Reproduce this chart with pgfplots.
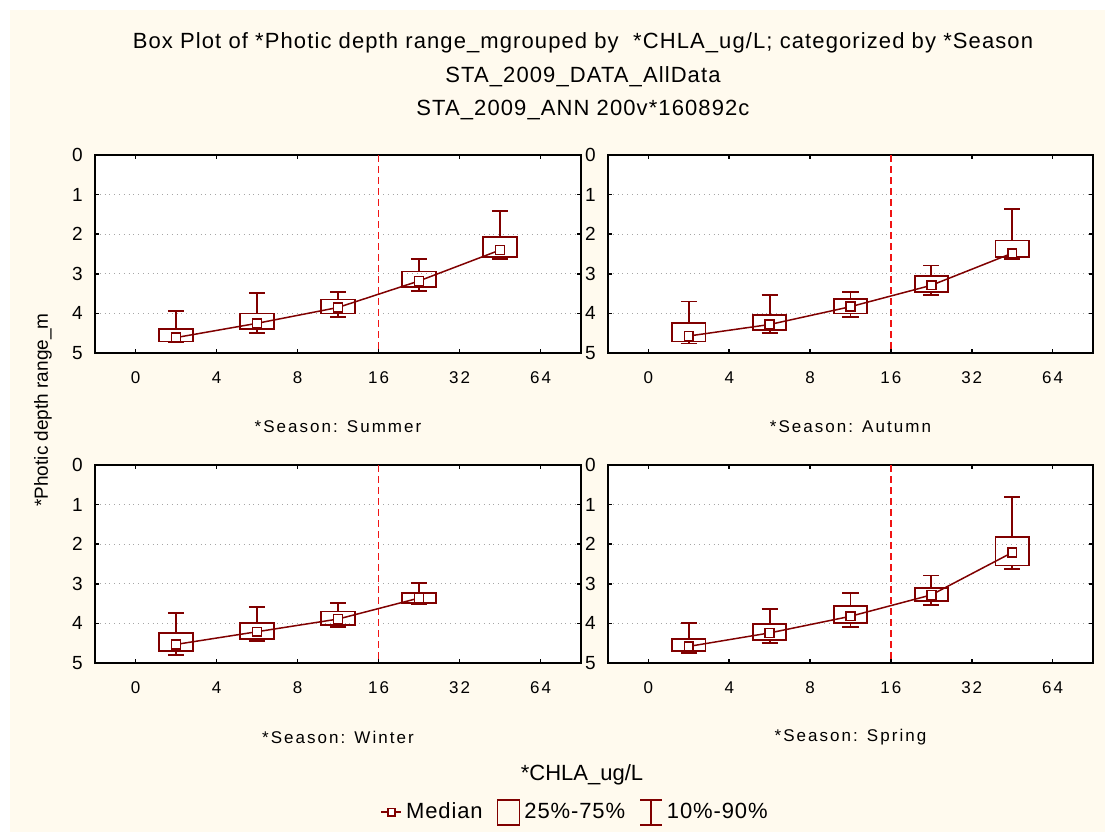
\documentclass[border=0pt]{standalone}
\usepackage{fontspec}
\setmainfont{Liberation Sans}
\usepackage{pgfplots}
\pgfplotsset{compat=1.18}
\usepgfplotslibrary{statistics}
\definecolor{boxred}{RGB}{128,0,0}
\definecolor{cream}{RGB}{255,250,238}
\definecolor{dashred}{RGB}{240,20,20}
\newfontfamily\spaced[LetterSpace=12]{Liberation Sans}
\newfontfamily\legfont[LetterSpace=4]{Liberation Sans}
\newfontfamily\titlefont[LetterSpace=5]{Liberation Sans}

% draw position, lower whisker, lower quartile, median, upper quartile, upper whisker
\newcommand{\bx}[6]{\addplot[boxred, line width=0.9pt, forget plot,
  boxplot prepared={draw direction=y, draw position=#1, lower whisker=#2, lower quartile=#3,
  median=#4, upper quartile=#5, upper whisker=#6, box extend=0.41, whisker extend=0.2}]
  coordinates {};}

\pgfplotsset{
  boxplot/every median/.style={draw=none},
  panel/.style={
    scale only axis, width=243pt, height=99pt, anchor=south west,
    xmin=-0.5, xmax=5.5, ymin=0, ymax=5, y dir=reverse,
    xtick={0,...,5}, xticklabels={0,4,8,16,32,64}, ytick={0,...,5},
    tick align=inside, major tick length=1.8pt,
    axis line style={line width=0.85pt},
    every tick/.style={black, line width=0.8pt},
    ymajorgrids, grid style={black!35, dotted, line width=0.6pt},
    axis background/.style={fill=white},
    /pgf/number format/assume math mode=true,
    xticklabel style={anchor=center, yshift=-12.5pt, font=\spaced\fontsize{8.5}{10}\selectfont},
    yticklabel style={anchor=center, xshift=-8.75pt, font=\fontsize{9.5}{11}\selectfont},
    xlabel style={at={(axis description cs:0.5,0)}, anchor=center, yshift=-37pt, font=\spaced\fontsize{8.5}{10}\selectfont},
  },
  medline/.style={boxred, line width=0.75pt, mark=square*, mark size=2.2pt,
    mark options={fill=white, solid, line width=0.8pt}, forget plot},
  cut/.style={dashred, dash pattern=on 3.5pt off 2pt, line width=0.9pt, forget plot},
}

\begin{document}
\begin{tikzpicture}
\useasboundingbox (0,0) rectangle (552.5pt,-416pt);
\fill[white] (0,0) rectangle (552.5pt,-416pt);
\fill[cream] (5pt,-5pt) rectangle (552.5pt,-416pt);

\node[font=\titlefont\fontsize{11}{13}\selectfont] at (291.5pt,-21.5pt) {Box Plot of *Photic depth range\_mgrouped by \ *CHLA\_ug/L; categorized by *Season};
\node[font=\titlefont\fontsize{11}{13}\selectfont] at (291.5pt,-38.5pt) {STA\_2009\_DATA\_AllData};
\node[font=\titlefont\fontsize{11}{13}\selectfont] at (291.5pt,-55pt) {STA\_2009\_ANN 200v*160892c};
\node[font=\fontsize{9.5}{11}\selectfont, rotate=90] at (21.5pt,-205pt) {*Photic depth range\_m};
\node[font=\fontsize{11}{13}\selectfont] at (291pt,-387.5pt) {*CHLA\_ug/L};

% Summer
\begin{axis}[panel, at={(47.5pt,-176.5pt)}, xlabel={*Season: Summer}]
\addplot[cut] coordinates {(3,0) (3,5)};
\bx{0.5}{3.94}{4.39}{4.61}{4.71}{4.73}
\bx{1.5}{3.49}{4.00}{4.25}{4.40}{4.50}
\bx{2.5}{3.45}{3.65}{3.85}{4.00}{4.09}
\bx{3.5}{2.63}{2.94}{3.18}{3.34}{3.44}
\bx{4.5}{1.41}{2.07}{2.40}{2.57}{2.63}
\addplot[medline] coordinates {(0.5,4.61) (1.5,4.25) (2.5,3.85) (3.5,3.18) (4.5,2.40)};
\end{axis}

% Autumn
\begin{axis}[panel, at={(304pt,-176.5pt)}, width=242.5pt, xlabel={*Season: Autumn}]
\addplot[cut] coordinates {(3,0) (3,5)};
\bx{0.5}{3.70}{4.24}{4.57}{4.71}{4.76}
\bx{1.5}{3.54}{4.03}{4.28}{4.42}{4.50}
\bx{2.5}{3.45}{3.64}{3.83}{4.00}{4.09}
\bx{3.5}{2.79}{3.05}{3.29}{3.45}{3.54}
\bx{4.5}{1.36}{2.16}{2.48}{2.58}{2.63}
\addplot[medline] coordinates {(0.5,4.57) (1.5,4.28) (2.5,3.83) (3.5,3.29) (4.5,2.48)};
\end{axis}

% Winter
\begin{axis}[panel, at={(47.5pt,-331.5pt)}, xlabel={*Season: Winter},
  legend style={at={(0.99,-0.753)}, anchor=center, legend columns=3, draw=none, fill=none,
    font=\legfont\fontsize{11}{13}\selectfont,
    /tikz/every even column/.append style={column sep=5pt}}]
\addplot[cut] coordinates {(3,0) (3,5)};
\bx{0.5}{3.74}{4.24}{4.53}{4.70}{4.80}
\bx{1.5}{3.59}{3.99}{4.21}{4.39}{4.45}
\bx{2.5}{3.49}{3.70}{3.89}{4.05}{4.10}
\bx{3.5}{2.98}{3.23}{3.36}{3.49}{3.50}
\addplot[medline] coordinates {(0.5,4.53) (1.5,4.21) (2.5,3.89) (3.5,3.36)};
\addlegendimage{legend image code/.code={
  \draw[boxred, line width=0.75pt] (0pt,0pt) -- (10pt,0pt);
  \draw[boxred, line width=0.8pt, fill=white] (3.2pt,-1.8pt) rectangle (6.8pt,1.8pt);}}
\addlegendentry{Median}
\addlegendimage{legend image code/.code={
  \draw[boxred, line width=0.9pt] (0pt,-6.25pt) rectangle (11pt,6.25pt);}}
\addlegendentry{25\%-75\%}
\addlegendimage{legend image code/.code={
  \draw[boxred, line width=0.9pt] (0pt,6.25pt) -- (11pt,6.25pt);
  \draw[boxred, line width=0.9pt] (5.5pt,6.25pt) -- (5.5pt,-6.25pt);
  \draw[boxred, line width=0.9pt] (0pt,-6.25pt) -- (11pt,-6.25pt);}}
\addlegendentry{10\%-90\%}
\end{axis}

% Spring
\begin{axis}[panel, at={(304pt,-331.5pt)}, width=242.5pt, xlabel={*Season: Spring}]
\addplot[cut] coordinates {(3,0) (3,5)};
\bx{0.5}{3.99}{4.39}{4.58}{4.70}{4.74}
\bx{1.5}{3.63}{4.02}{4.24}{4.41}{4.49}
\bx{2.5}{3.23}{3.57}{3.82}{3.99}{4.09}
\bx{3.5}{2.79}{3.11}{3.28}{3.44}{3.53}
\bx{4.5}{0.81}{1.82}{2.21}{2.54}{2.62}
\addplot[medline] coordinates {(0.5,4.58) (1.5,4.24) (2.5,3.82) (3.5,3.28) (4.5,2.21)};
\end{axis}
\end{tikzpicture}
\end{document}
